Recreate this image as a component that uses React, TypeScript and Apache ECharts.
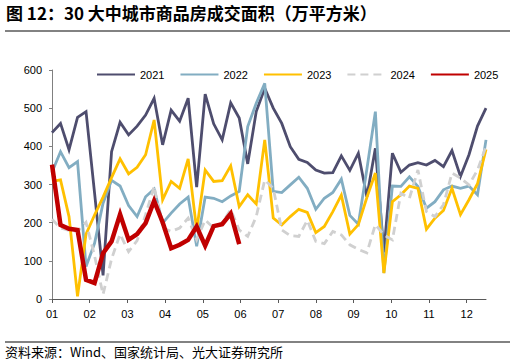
import { useEffect, useRef } from 'react';
import * as echarts from 'echarts';

const years = ['2021', '2022', '2023', '2024', '2025'];
const v2021 = [436, 460, 391, 476, 491, 278, 62, 386, 463, 430, 453, 482, 526, 404, 495, 466, 526, 293, 537, 459, 417, 514, 474, 354, 491, 552, 500, 460, 399, 366, 358, 338, 330, 331, 375, 337, 382, 268, 395, 122, 382, 332, 351, 357, 351, 363, 347, 389, 321, 378, 453, 500];
const v2022 = [332, 386, 344, 360, 85, 146, 251, 311, 296, 245, 216, 268, 288, 199, 225, 249, 267, 138, 267, 264, 255, 270, 282, 452, 513, 565, 282, 279, 299, 319, 290, 235, 264, 279, 314, 219, 196, 340, 491, 68, 296, 295, 320, 295, 238, 255, 286, 296, 290, 296, 273, 417];
const v2023 = [308, 312, 216, 7, 170, 220, 267, 318, 367, 328, 345, 378, 469, 260, 308, 290, 367, 181, 338, 308, 310, 349, 242, 273, 249, 417, 212, 194, 216, 235, 227, 174, 190, 229, 272, 170, 195, 266, 330, 68, 255, 273, 296, 290, 183, 212, 232, 290, 221, 260, 302, 392];
const v2024 = [209, 186, 180, 177, 201, 113, 12, 105, 170, 124, 153, 221, 295, 186, 177, 186, 212, 155, 207, 186, 200, 234, 181, 164, 216, 312, 290, 181, 166, 164, 206, 151, 145, 177, 168, 142, 130, 121, 195, 168, 155, 277, 264, 338, 229, 216, 247, 330, 317, 299, 338, 400];
const v2025 = [352, 194, 184, 181, 50, 42, 120, 151, 222, 155, 170, 199, 257, 201, 133, 142, 155, 190, 140, 191, 196, 224, 144];
const monthLabels = ['01', '02', '03', '04', '05', '06', '07', '08', '09', '10', '11', '12'];
const yTicks = [0, 100, 200, 300, 400, 500, 600];

const WEEKS_PER_MONTH = 4.43;
const LAST_WEEK = 51;

const colors = ['#4E4D6E', '#82ADC2', '#FFC000', '#D0D0D0', '#C00000'];

export default function App() {
  const ref = useRef<HTMLDivElement>(null);
  useEffect(() => {
    document.body.style.margin = '0';
    const chart = echarts.init(ref.current!, null, { renderer: 'svg' });
    const all = [v2021, v2022, v2023, v2024, v2025];
    const monthTicks = monthLabels.map((_, i) => i * WEEKS_PER_MONTH);
    const axisFont = 'Liberation Sans, Arial, sans-serif';
    chart.setOption({
      animation: false,
      title: {
        text: '图 12：30 大中城市商品房成交面积（万平方米）',
        left: 6,
        top: 4,
        padding: 0,
        textStyle: { fontSize: 17, fontWeight: 'bold', color: '#000', fontFamily: 'Noto Sans CJK SC, sans-serif' },
      },
      graphic: [
        { type: 'line', shape: { x1: 5, y1: 31, x2: 510, y2: 31 }, style: { stroke: '#595959', lineWidth: 1.5 } },
        { type: 'line', shape: { x1: 5, y1: 342, x2: 510, y2: 342 }, style: { stroke: '#595959', lineWidth: 1.5 } },
        {
          type: 'text', left: 5, top: 345,
          style: { text: '资料来源：Wind、国家统计局、光大证券研究所', fontSize: 13, fill: '#000', fontFamily: 'Noto Sans CJK SC, sans-serif' },
        },
      ],
      legend: {
        top: 69,
        left: 96,
        itemWidth: 38,
        itemHeight: 10,
        itemGap: 15,
        padding: 0,
        itemStyle: { opacity: 0 },
        textStyle: { fontSize: 11, color: '#000', fontFamily: axisFont },
        data: years,
      },
      grid: { left: 52, right: 30, top: 70, bottom: 64 },
      xAxis: {
        type: 'value',
        min: 0,
        max: LAST_WEEK,
        interval: WEEKS_PER_MONTH,
        axisLine: { show: true, lineStyle: { color: '#595959', width: 1 } },
        axisTick: { show: true, length: 4, lineStyle: { color: '#595959' }, customValues: monthTicks },
        axisLabel: {
          customValues: monthTicks,
          margin: 9,
          fontSize: 11,
          color: '#000',
          fontFamily: axisFont,
          formatter: (v: number) => {
            const m = Math.round(v / WEEKS_PER_MONTH);
            if (Math.abs(v - m * WEEKS_PER_MONTH) > 0.01) return '';
            return monthLabels[m] ?? '';
          },
        },
        splitLine: { show: false },
      },
      yAxis: {
        type: 'value',
        min: yTicks[0],
        max: yTicks[yTicks.length - 1],
        interval: 100,
        axisLine: { show: true, lineStyle: { color: '#808080', width: 1 } },
        axisTick: { show: true, length: 3, lineStyle: { color: '#808080' } },
        axisLabel: { margin: 10, fontSize: 11, color: '#000', fontFamily: axisFont },
        splitLine: { show: false },
      },
      series: years.map((y, k) => ({
        name: y,
        type: 'line',
        symbol: 'none',
        smooth: false,
        data: all[k].map((v, i) => [i, v]),
        color: colors[k],
        lineStyle: {
          color: colors[k],
          width: k === 4 ? 4.5 : 2.8,
          type: k === 3 ? [8, 5] : 'solid',
          join: 'miter',
        },
        z: 2 + k,
      })),
    });
    return () => chart.dispose();
  }, []);
  return <div ref={ref} style={{ width: 516, height: 363 }} />;
}
